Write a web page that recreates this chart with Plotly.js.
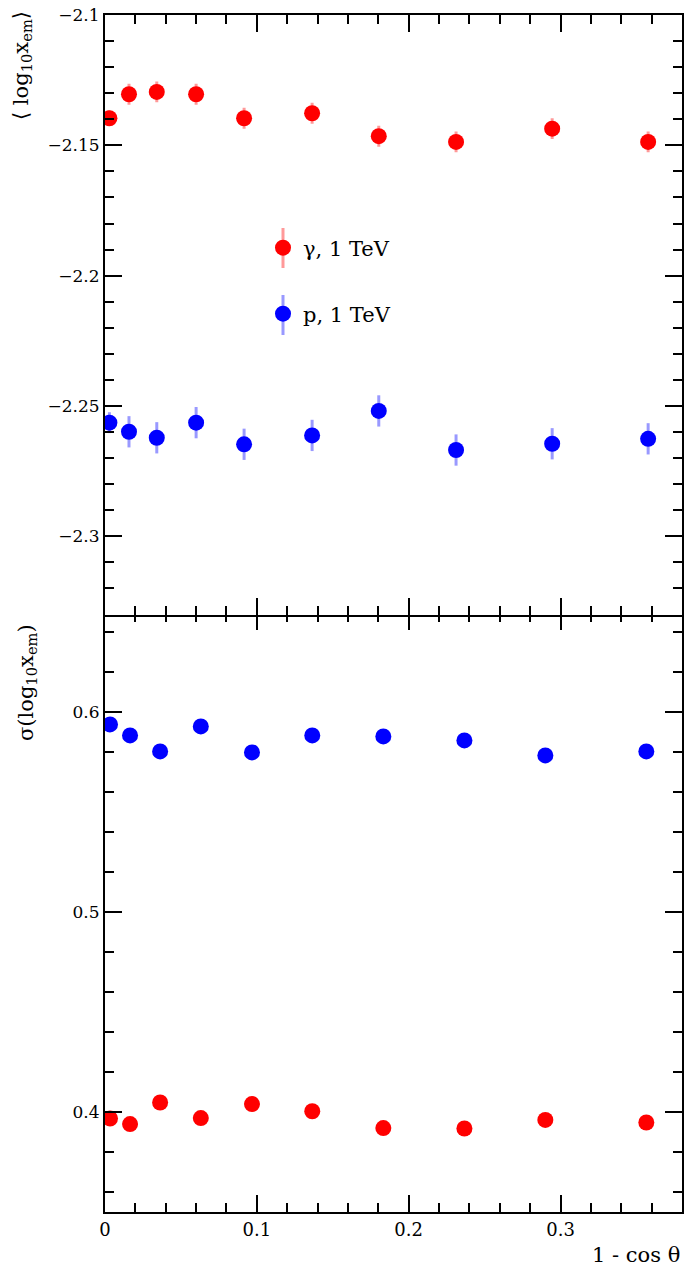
<!DOCTYPE html>
<html>
<head>
<meta charset="utf-8">
<script src="https://cdn.plot.ly/plotly-3.0.1.min.js"></script>
<style>html,body{margin:0;padding:0;background:#fff;}</style>
</head>
<body>
<div id="chart" style="width:685px;height:1271px;"></div>
<script>
// ---- data ----
const xTop = [0.0029, 0.0158, 0.0341, 0.0600, 0.0916, 0.1364, 0.1803, 0.2312, 0.2945, 0.3577];
const meanGamma = [-2.1396, -2.1304, -2.1295, -2.1304, -2.1396, -2.1377, -2.1465, -2.1487, -2.1436, -2.1487];
const meanGammaErr = [0.003, 0.004, 0.004, 0.004, 0.004, 0.004, 0.004, 0.004, 0.004, 0.004];
const meanProton = [-2.2564, -2.2599, -2.2622, -2.2564, -2.2647, -2.2613, -2.2519, -2.2669, -2.2645, -2.2626];
const meanProtonErr = [0.004, 0.006, 0.006, 0.006, 0.006, 0.006, 0.006, 0.006, 0.006, 0.006];

const xBottom = [0.0033, 0.0165, 0.0363, 0.0631, 0.0968, 0.1365, 0.1833, 0.2367, 0.2900, 0.3565];
const sigmaGamma = [0.3968, 0.3940, 0.4048, 0.3970, 0.4040, 0.4004, 0.3920, 0.3918, 0.3961, 0.3948];
const sigmaGammaErr = [0.002, 0.002, 0.002, 0.002, 0.002, 0.002, 0.002, 0.002, 0.002, 0.002];
const sigmaProton = [0.5940, 0.5885, 0.5805, 0.5930, 0.5800, 0.5885, 0.5880, 0.5860, 0.5785, 0.5805];
const sigmaProtonErr = [0.002, 0.002, 0.002, 0.002, 0.002, 0.002, 0.002, 0.002, 0.002, 0.002];

const seriesNames = ["γ, 1 TeV", "p, 1 TeV"];
const xTitle = "1 - cos θ";
const yTopTitle = "⟨ log<sub>10</sub>x<sub>em</sub>⟩";
const yBottomTitle = "σ(log<sub>10</sub>x<sub>em</sub>)";

// ---- styles ----
const RED = "#ff0000", BLUE = "#0000ff";
const RED_ERR = "rgba(255,0,0,0.4)", BLUE_ERR = "rgba(0,0,255,0.4)";
const FONT = "'DejaVu Serif', serif";

function tr(x, y, err, color, errColor, name, xa, ya, legend, show) {
  return {
    type: "scatter", mode: "markers", x: x, y: y, name: name,
    xaxis: xa, yaxis: ya, showlegend: show, legend: legend,
    marker: {color: color, size: 16, line: {width: 0}},
    error_y: {type: "data", array: err, visible: true, color: errColor, thickness: 3, width: 0}
  };
}

const data = [
  tr(xTop, meanGamma, meanGammaErr, RED, RED_ERR, seriesNames[0], "x2", "y2", "legend", true),
  tr(xTop, meanProton, meanProtonErr, BLUE, BLUE_ERR, seriesNames[1], "x2", "y2", "legend2", true),
  tr(xBottom, sigmaGamma, sigmaGammaErr, RED, RED_ERR, seriesNames[0], "x", "y", "legend", false),
  tr(xBottom, sigmaProton, sigmaProtonErr, BLUE, BLUE_ERR, seriesNames[1], "x", "y", "legend2", false)
];

const axisCommon = {
  showline: true, linecolor: "#000", linewidth: 2, mirror: "ticks",
  ticks: "inside", ticklen: 17, tickwidth: 2, tickcolor: "#000",
  showgrid: false, zeroline: false,
  tickfont: {family: FONT, size: 17, color: "#000"}
};

const W = 685, H = 1271, ML = 105, MR = 3, MT = 15, MB = 59;
const PW = W - ML - MR, PH = H - MT - MB;
const px = v => (v - ML) / PW;
const py = v => (H - MB - v) / PH;
const half = 1 / PH;   // lets the two frame lines at the pad boundary overlap into one

const layout = {
  width: W, height: H,
  margin: {l: ML, r: MR, t: MT, b: MB},
  paper_bgcolor: "#fff", plot_bgcolor: "#fff",
  font: {family: FONT, color: "#000"},
  xaxis: Object.assign({}, axisCommon, {
    domain: [0, 1], anchor: "y", range: [0, 0.38], dtick: 0.1, tick0: 0,
    tickfont: {family: FONT, size: 18, color: "#000"},
    minor: {dtick: 0.02, ticklen: 9, tickwidth: 2, tickcolor: "#000", ticks: "inside"}
  }),
  xaxis2: Object.assign({}, axisCommon, {
    domain: [0, 1], anchor: "y2", matches: "x", range: [0, 0.38], dtick: 0.1, tick0: 0,
    showticklabels: false,
    minor: {dtick: 0.02, ticklen: 9, tickwidth: 2, tickcolor: "#000", ticks: "inside"}
  }),
  yaxis: Object.assign({}, axisCommon, {
    domain: [0, 0.5 + half], anchor: "x", range: [0.35, 0.65], dtick: 0.1, tick0: 0,
    minor: {dtick: 0.02, ticklen: 9, tickwidth: 2, tickcolor: "#000", ticks: "inside"}
  }),
  yaxis2: Object.assign({}, axisCommon, {
    domain: [0.5 - half, 1], anchor: "x2", range: [-2.33, -2.1], dtick: 0.05, tick0: 0,
    minor: {dtick: 0.01, ticklen: 9, tickwidth: 2, tickcolor: "#000", ticks: "inside"}
  }),
  legend: {
    x: px(263), y: py(248), xanchor: "left", yanchor: "middle",
    bgcolor: "rgba(0,0,0,0)", borderwidth: 0,
    font: {family: FONT, size: 21, color: "#000"}
  },
  legend2: {
    x: px(263), y: py(314), xanchor: "left", yanchor: "middle",
    bgcolor: "rgba(0,0,0,0)", borderwidth: 0,
    font: {family: FONT, size: 21, color: "#000"}
  },
  shapes: [
    {type: "line", xref: "paper", yref: "paper", x0: px(283), x1: px(283), y0: py(268), y1: py(228),
     line: {color: RED_ERR, width: 3}, layer: "above"},
    {type: "line", xref: "paper", yref: "paper", x0: px(283), x1: px(283), y0: py(335), y1: py(295),
     line: {color: BLUE_ERR, width: 3}, layer: "above"}
  ],
  annotations: [
    {text: xTitle, xref: "paper", yref: "paper", x: 1, y: py(1255), xanchor: "right", yanchor: "middle",
     showarrow: false, font: {family: FONT, size: 21, color: "#000"}},
    {text: yTopTitle, xref: "paper", yref: "paper", x: px(22), y: py(66), xanchor: "center", yanchor: "middle",
     textangle: -90, showarrow: false, font: {family: FONT, size: 21, color: "#000"}},
    {text: yBottomTitle, xref: "paper", yref: "paper", x: px(27), y: py(683), xanchor: "center", yanchor: "middle",
     textangle: -90, showarrow: false, font: {family: FONT, size: 21, color: "#000"}}
  ]
};

Plotly.newPlot("chart", data, layout, {displayModeBar: false, staticPlot: true});
</script>
</body>
</html>
